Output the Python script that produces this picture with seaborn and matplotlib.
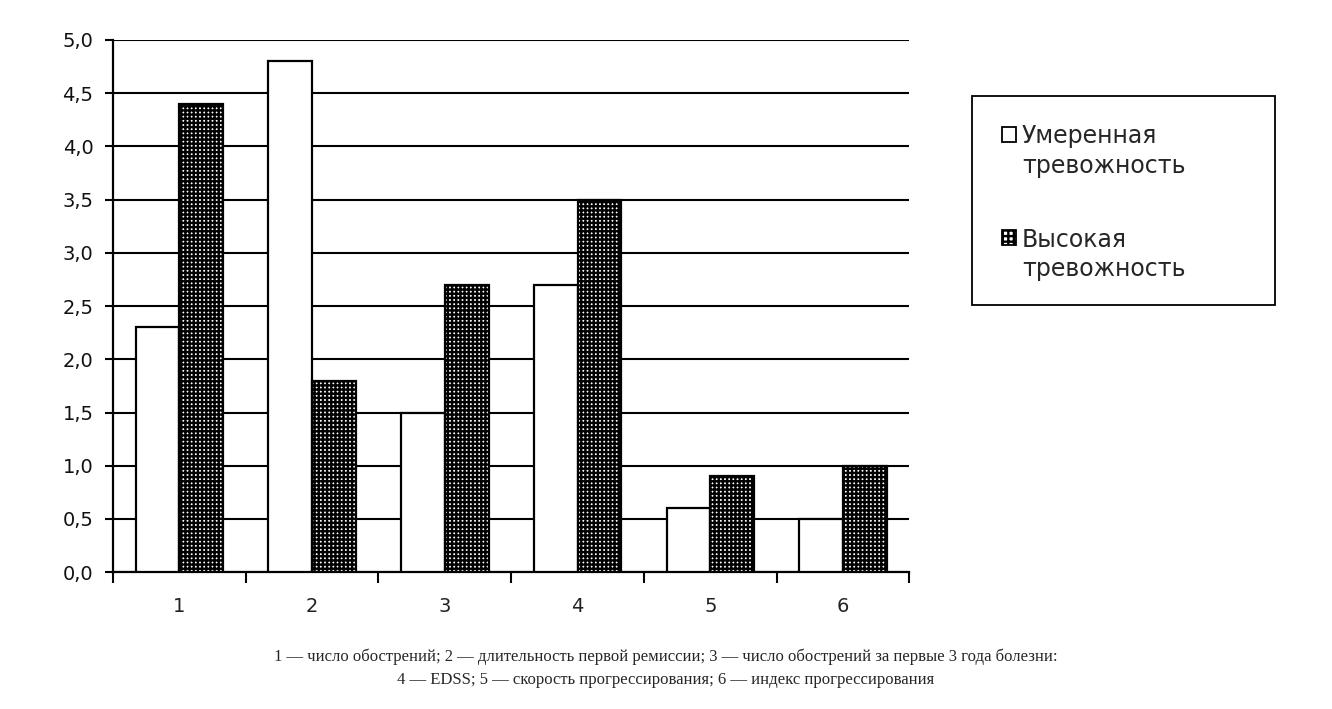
import pandas as pd
import matplotlib.pyplot as plt
import matplotlib.ticker as mticker
from matplotlib.patches import Rectangle, Patch
import seaborn as sns

# Данные (оценка по рисунку)
categories = ['1', '2', '3', '4', '5', '6']
moderate = [2.3, 4.8, 1.5, 2.7, 0.6, 0.5]
high = [4.4, 1.8, 2.7, 3.5, 0.9, 1.0]
series_names = ['Умеренная\nтревожность', 'Высокая\nтревожность']
y_ticks = [0.0, 0.5, 1.0, 1.5, 2.0, 2.5, 3.0, 3.5, 4.0, 4.5, 5.0]
caption = ('1 — число обострений; 2 — длительность первой ремиссии; 3 — число обострений за первые 3 года болезни:\n'
           '4 — EDSS; 5 — скорость прогрессирования; 6 — индекс прогрессирования')

df = pd.DataFrame({
    'cat': categories * 2,
    'val': moderate + high,
    'grp': [series_names[0]] * len(categories) + [series_names[1]] * len(categories),
})

sns.set_theme(style="white")
plt.rcParams['font.family'] = ['DejaVu Sans']
plt.rcParams['hatch.linewidth'] = 1.7
plt.rcParams['hatch.color'] = 'black'

fig = plt.figure(figsize=(13.32, 7.09), dpi=100)
ax = fig.add_axes([0.0848, 0.193, 0.598, 0.7506])

sns.barplot(data=df, x='cat', y='val', hue='grp', ax=ax, width=0.66,
            palette=['white', 'white'], edgecolor='black', linewidth=1.6,
            legend=False, zorder=3, saturation=1)
for bar in ax.containers[1]:
    bar.set_hatch('++++')

ax.set_xlim(-0.5, 5.5)
ax.set_ylim(0, 5.0)
ax.set_yticks(y_ticks)
ax.yaxis.set_major_formatter(mticker.FuncFormatter(lambda v, p: f"{v:.1f}".replace('.', ',')))
ax.yaxis.grid(True, color='black', linewidth=1.5, zorder=0)
ax.set_axisbelow(True)

ax.set_xticks(range(len(categories)))
ax.set_xticklabels(categories)
ax.set_xticks([i - 0.5 for i in range(len(categories) + 1)], minor=True)
ax.tick_params(axis='x', which='major', length=0, pad=18, labelsize=14, labelcolor='#222222')
ax.tick_params(axis='x', which='minor', length=8, width=1.5, color='black', direction='out', bottom=True)
ax.tick_params(axis='y', length=6, width=1.5, color='black', direction='out', left=True,
               labelsize=14, pad=8, labelcolor='#111111')
ax.set_xlabel('')
ax.set_ylabel('')

for s in ['top', 'right']:
    ax.spines[s].set_visible(False)
for s in ['left', 'bottom']:
    ax.spines[s].set_color('black')
    ax.spines[s].set_linewidth(1.6)

# Легенда в рамке
fig.patches.append(Rectangle((0.730, 0.570), 0.227, 0.295, transform=fig.transFigure,
                             fill=False, edgecolor='black', linewidth=1.3))
handles = [Patch(facecolor='white', edgecolor='black', linewidth=1.3),
           Patch(facecolor='white', edgecolor='black', linewidth=1.3, hatch='+++')]
leg = fig.legend(handles, series_names, loc='upper left', bbox_to_anchor=(0.745, 0.838),
                 frameon=False, fontsize=17, handlelength=0.6, handleheight=0.6,
                 handletextpad=0.25, labelspacing=2.1, borderaxespad=0)
for t in leg.get_texts():
    t.set_linespacing(1.3)
for h in leg.legend_handles:
    h.set_y(h.get_y() + 13)

fig.text(0.5, 0.058, caption, ha='center', va='center', fontsize=12,
         family=['Liberation Serif', 'DejaVu Serif'], linespacing=1.6)

fig.savefig('out.png', dpi=100, facecolor='white')
